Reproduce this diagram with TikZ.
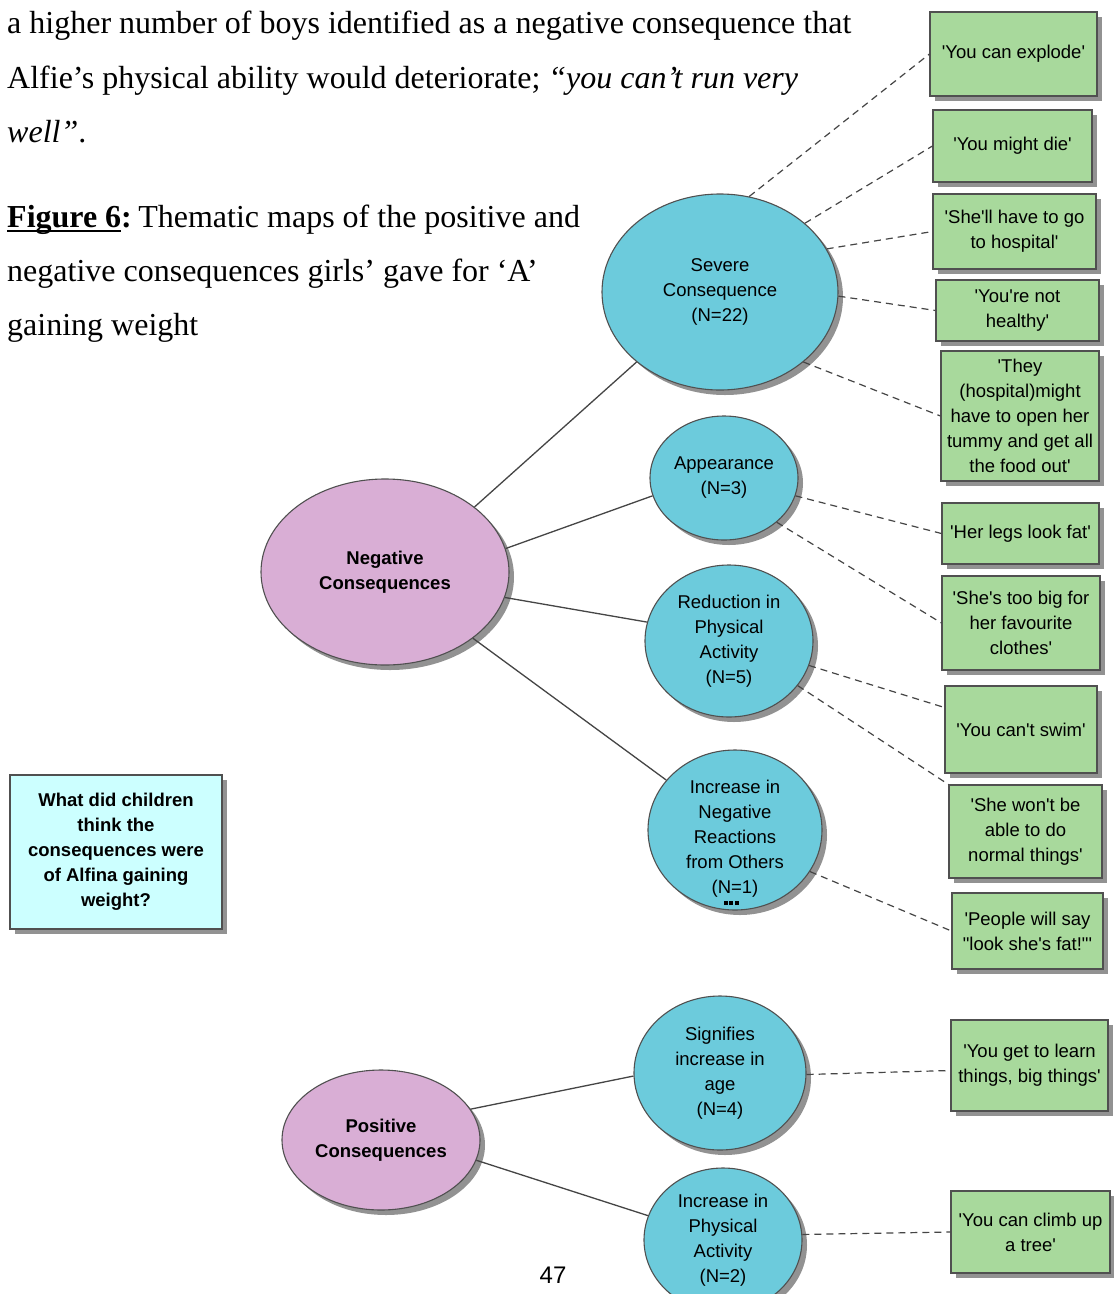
\documentclass[tikz,border=0pt]{standalone}
\usepackage{fontspec}
\setmainfont{Liberation Serif}
\newfontfamily\arialf[Ligatures=TeXOff]{Liberation Sans}
\usetikzlibrary{shapes.geometric,shadows,calc}
\definecolor{ellcyan}{HTML}{6CCBDC}
\definecolor{ellpink}{HTML}{D9AED5}
\definecolor{boxgreen}{HTML}{A8D99C}
\definecolor{qcyan}{HTML}{CCFFFF}
\definecolor{edgegray}{HTML}{505050}
\definecolor{linegray}{HTML}{454545}
\definecolor{shadowgray}{HTML}{929292}
\newcommand\ulfig[1]{\setbox0\hbox{#1}\rlap{\rule[-5pt]{\wd0}{2pt}}\box0}
\begin{document}
\begin{tikzpicture}[x=1pt,y=-1pt,
  shad/.style={drop shadow={shadow xshift=5pt,shadow yshift=-5pt,fill=shadowgray,opacity=1}},
  cmapfont/.style={font=\arialf\fontsize{18.5}{25}\selectfont},
  themeell/.style={ellipse,draw=edgegray,line width=1.1pt,fill=ellcyan,shad,inner sep=0pt,align=center,cmapfont},
  rootell/.style={themeell,fill=ellpink,font=\arialf\bfseries\fontsize{18.5}{25}\selectfont},
  quotebox/.style={rectangle,draw=edgegray,line width=1.1pt,fill=boxgreen,shad,inner sep=0pt,align=center,cmapfont},
  askbox/.style={rectangle,draw=edgegray,line width=1.1pt,fill=qcyan,shad,inner sep=0pt,align=center,font=\arialf\bfseries\fontsize{18.5}{25}\selectfont},
  bodyline/.style={anchor=base west,inner sep=0pt,font=\fontsize{32}{40}\selectfont},
  sconn/.style={draw=linegray,line width=1.3pt},
  dconn/.style={draw=linegray,line width=1.2pt,dash pattern=on 7pt off 5pt}
]
\clip (0,0) rectangle (1114,1294);
\fill[white] (0,0) rectangle (1114,1294);

% body text
\node[bodyline] (l1) at (7,33) {a higher number of boys identified as a negative consequence that};
\node[bodyline] (l2) at (7,88) {Alfie’s physical ability would deteriorate; \textit{“you can’t run very}};
\node[bodyline] (l3) at (7,142) {\textit{well”}.};
\node[bodyline] (c1) at (7,227) {\textbf{\ulfig{Figure 6}:}\hspace{0.2em}Thematic maps of the positive and};
\node[bodyline] (c2) at (7,281) {negative consequences girls’ gave for ‘A’};
\node[bodyline] (c3) at (7,335) {gaining weight};

% question box
\node[askbox,minimum width=212,minimum height=154] (ask) at (116,852)
  {What did children\\think the\\consequences were\\of Alfina gaining\\weight?};

% root ellipses
\node[rootell,minimum width=248,minimum height=186] (neg) at (385,572) {Negative\\Consequences};
\node[rootell,minimum width=198,minimum height=140] (pos) at (381,1140) {Positive\\Consequences};

% theme ellipses
\node[themeell,minimum width=236,minimum height=196] (sev) at (720,292) {Severe\\Consequence\\(N=22)};
\node[themeell,minimum width=148,minimum height=124] (app) at (724,478) {Appearance\\(N=3)};
\node[themeell,minimum width=168,minimum height=152] (red) at (729,641) {Reduction in\\Physical\\Activity\\(N=5)};
\node[themeell,minimum width=174,minimum height=160] (incneg) at (735,830) {};
\node[inner sep=0pt,align=center,cmapfont] (incnegtxt) at (735,839) {Increase in\\Negative\\Reactions\\from Others\\(N=1)};
\node[inner sep=0pt] (more) at (731,903) {\rule{4pt}{4pt}\hspace{1.5pt}\rule{4pt}{4pt}\hspace{1.5pt}\rule{4pt}{4pt}};
\node[themeell,minimum width=172,minimum height=154] (sig) at (720,1073) {Signifies\\increase in\\age\\(N=4)};
\node[themeell,minimum width=158,minimum height=144] (incphys) at (723,1240) {Increase in\\Physical\\Activity\\(N=2)};

% quote boxes
\node[quotebox,minimum width=167,minimum height=84] (q1) at (1013.5,54) {'You can explode'};
\node[quotebox,minimum width=159,minimum height=72] (q2) at (1012.5,146) {'You might die'};
\node[quotebox,minimum width=163,minimum height=75] (q3) at (1014.5,231.5) {'She'll have to go\\to hospital'};
\node[quotebox,minimum width=163,minimum height=61] (q4) at (1017.5,310.5) {'You're not\\healthy'};
\node[quotebox,minimum width=158,minimum height=130] (q5) at (1020,416) {'They\\(hospital)might\\have to open her\\tummy and get all\\the food out'};
\node[quotebox,minimum width=157,minimum height=61] (q6) at (1020.5,533.5) {'Her legs look fat'};
\node[quotebox,minimum width=158,minimum height=94] (q7) at (1021,623) {'She's too big for\\her favourite\\clothes'};
\node[quotebox,minimum width=152,minimum height=87] (q8) at (1021,729.5) {'You can't swim'};
\node[quotebox,minimum width=153,minimum height=93] (q9) at (1025.5,831.5) {'She won't be\\able to do\\normal things'};
\node[quotebox,minimum width=151,minimum height=76] (q10) at (1027.5,931) {'People will say\\"look she's fat!"'};
\node[quotebox,minimum width=157,minimum height=91] (q11) at (1029.5,1065.5) {'You get to learn\\things, big things'};
\node[quotebox,minimum width=159,minimum height=82] (q12) at (1030.5,1232) {'You can climb up\\a tree'};

% solid connectors
\draw[sconn] (neg.36.9) -- (sev.220.5);
\draw[sconn] (neg.11.5) -- (app.194.8);
\draw[sconn] (neg.-12.3) -- (red.167);
\draw[sconn] (neg.-37.3) -- (incneg.144.8);
\draw[sconn] (pos.19.8) -- (sig.182);
\draw[sconn] (pos.-12.5) -- (incphys.162.5);

% dashed connectors
\draw[dconn] (sev.73) -- (q1.west);
\draw[dconn] (sev.39) -- (q2.west);
\draw[dconn] (sev.22) -- (q3.west);
\draw[dconn] (sev.-2) -- (q4.west);
\draw[dconn] (sev.-40) -- (q5.west);
\draw[dconn] (app.-14) -- (q6.west);
\draw[dconn] (app.-40) -- (q7.west);
\draw[dconn] (red.-17) -- ([yshift=22pt]q8.west);
\draw[dconn] (red.-33) -- (q9.north west);
\draw[dconn] (incneg.-29) -- (q10.west);
\draw[dconn] (sig.-1) -- ([yshift=-5pt]q11.west);
\draw[dconn] (incphys.4) -- (q12.west);

% page number
\node[inner sep=0pt,font=\arialf\fontsize{24}{28}\selectfont] (pg) at (553,1275) {47};
\end{tikzpicture}
\end{document}
